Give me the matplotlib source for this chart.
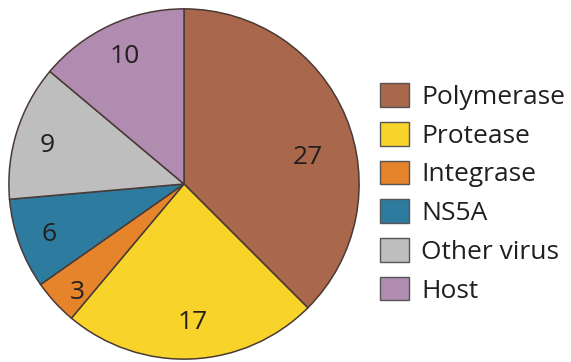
import matplotlib.pyplot as plt
from matplotlib.patches import Patch

# drug target categories and counts
categories = ["Polymerase", "Protease", "Integrase", "NS5A", "Other virus", "Host"]
counts = [27, 17, 3, 6, 9, 10]
colors = ["#A9674B", "#F8D42B", "#E6842B", "#2E7BA0", "#BEBEBF", "#B08CB0"]

# hand-placed label spots (axes data coords, pie radius = 1)
label_xy = [(0.71, 0.15), (0.05, -0.79), (-0.61, -0.62),
            (-0.77, -0.29), (-0.78, 0.22), (-0.34, 0.73)]

plt.rcParams['font.family'] = ['Open Sans', 'DejaVu Sans']
edge = "#4A3A36"
txt = "#231F20"

fig = plt.figure(figsize=(5.71, 3.62), dpi=100)
W, H = 571, 362
ax = fig.add_axes([8 / W, 2 / H, 352 / W, 352 / H])

wedges, _ = ax.pie(counts, colors=colors, startangle=90, counterclock=False,
                   radius=1, wedgeprops=dict(edgecolor=edge, linewidth=1.1))
ax.set_xlim(-1.005, 1.005)
ax.set_ylim(-1.005, 1.005)
ax.set_aspect('equal')
ax.axis('off')

for n, (x, y) in zip(counts, label_xy):
    ax.text(x, y, str(n), ha='center', va='center', fontsize=19, color=txt,
            fontweight='medium')

handles = [Patch(facecolor=c, edgecolor="#555555", linewidth=1.0) for c in colors]
fig.legend(handles, categories, loc='upper left',
           bbox_to_anchor=(367 / W, 1 - 70 / H), frameon=False,
           fontsize=19, handlelength=1.1, handleheight=1.0,
           handletextpad=0.45, labelspacing=0.45, borderpad=0,
           labelcolor=txt, prop=dict(size=19, weight='medium'))

fig.savefig("out.png", dpi=100)
